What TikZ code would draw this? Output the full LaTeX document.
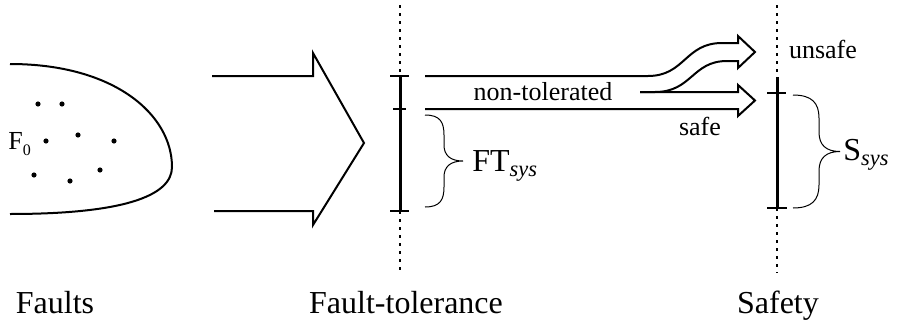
\documentclass[tikz,border=0pt]{standalone}
\usepackage{fontspec}
\setmainfont{Liberation Serif}
\usetikzlibrary{positioning}

\begin{document}
\begin{tikzpicture}[
    x=0.5pt, y=-0.5pt,
    outline/.style={line width=1pt, line join=miter},
    axis/.style={line width=1.5pt},
    tick/.style={line width=1pt},
    dotline/.style={line width=1.4pt, dash pattern=on 1.6pt off 2.4pt},
    bracket/.style={line width=0.5pt},
    biglabel/.style={font=\fontsize{16}{18}\selectfont, inner sep=0pt, anchor=base},
    smalllabel/.style={font=\fontsize{13}{15}\selectfont, inner sep=0pt, anchor=base}
]
\useasboundingbox (0,0) rectangle (901,322);

% Fault set
\draw[outline] (10,64) .. controls (115,64) and (172,115) .. (172,167)
    .. controls (172,197) and (120,214) .. (10,214);
\foreach \p in {(38,104),(62,104),(78,135),(46,141),(114,141),(100,170),(34,175),(70,181)}
    \fill \p circle (2.6);
\node[smalllabel, anchor=base west] (fzero) at (8,149) {F{\fontsize{8}{9}\selectfont\raisebox{-3pt}{0}}};

% Big arrow
\draw[outline] (212,76) -- (313,76) -- (313,53) -- (364,143) -- (313,225) -- (313,211) -- (214,211);

% Fault-tolerance axis
\coordinate (fttop) at (400,76);
\coordinate (ftbot) at (400,211);
\draw[dotline] (400,5) -- (fttop);
\draw[axis] (fttop) -- (ftbot);
\draw[dotline] (ftbot) -- (400,273);
\draw[tick] (390,76) -- (409,76);
\draw[tick] (393,109) -- (406,109);
\draw[tick] (390,211) -- (409,211);

% Safety axis
\coordinate (stop) at (777,77);
\coordinate (sbot) at (777,208);
\draw[dotline] (777,5) -- (stop);
\draw[axis] (stop) -- (sbot);
\draw[dotline] (sbot) -- (777,273);
\draw[tick] (767,93) -- (786,93);
\draw[tick] (767,208) -- (787,208);

% Unsafe arrow
\draw[outline] (425,76) -- (648,76) .. controls (685,76) and (685,43) .. (722,43)
    -- (738,43) -- (738,36) -- (755,52) -- (738,68) -- (738,61) -- (727,61)
    .. controls (692,61) and (692,92) .. (655,92) -- (640,92);

% Safe arrow
\draw[outline] (640,92) -- (738,92) -- (738,85) -- (755,100.5) -- (738,116) -- (738,109) -- (425,109);

% Braces
\draw[bracket] (425,115) .. controls (440,115) and (444,122) .. (444,135) -- (444,145)
    .. controls (444,155) and (450,161) .. (463,161)
    .. controls (450,161) and (444,167) .. (444,177) -- (444,187)
    .. controls (444,200) and (440,207) .. (425,207);
\draw[bracket] (793,95) .. controls (812,95) and (819,103) .. (819,118) -- (819,132)
    .. controls (819,145) and (826,151.5) .. (840,151.5)
    .. controls (826,151.5) and (819,158) .. (819,171) -- (819,185)
    .. controls (819,200) and (812,208) .. (793,208);

% Labels
\node[smalllabel] (nontol) at (543,100) {non-tolerated};
\node[smalllabel] (safe) at (700,135) {safe};
\node[smalllabel] (unsafe) at (823,58) {unsafe};
\node[biglabel, anchor=base west] (ftsys) at (472,171) {FT\textsubscript{\itshape sys}};
\node[biglabel, anchor=base west] (ssys) at (843,160) {S\textsubscript{\itshape sys}};
\node[biglabel] (faults) at (55,313) {Faults};
\node[biglabel] (ftol) at (406,313) {Fault-tolerance};
\node[biglabel] (safety) at (778,313) {Safety};

\end{tikzpicture}
\end{document}
